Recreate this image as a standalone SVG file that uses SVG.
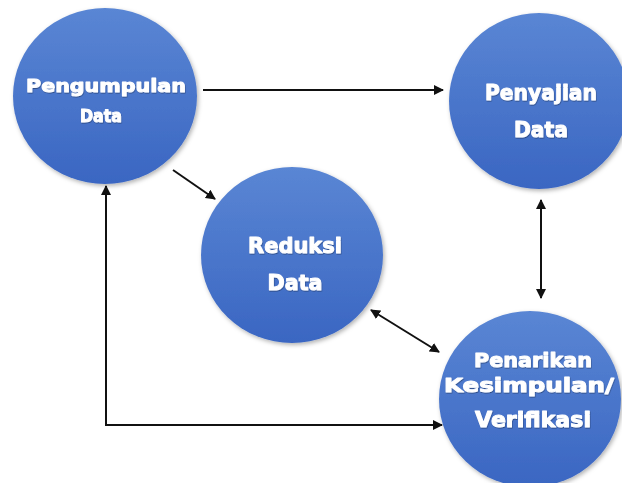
<svg xmlns="http://www.w3.org/2000/svg" width="622" height="483" viewBox="0 0 622 483">
<style>
.node{fill:url(#blue);filter:url(#sh)}
.lbl{font-family:"DejaVu Sans","Liberation Sans",sans-serif;font-weight:700;fill:#fff;stroke:#fff;stroke-width:1;stroke-linejoin:round;text-anchor:middle;filter:url(#tsh)}
.c{stroke:#111;stroke-width:2;fill:none}
</style>
<defs>
<linearGradient id="blue" x1="0" y1="0" x2="0" y2="1">
<stop offset="0" stop-color="#5a86d4"/>
<stop offset="1" stop-color="#3a66c2"/>
</linearGradient>
<filter id="sh" x="-10%" y="-10%" width="125%" height="125%">
<feDropShadow dx="1.5" dy="2" stdDeviation="2" flood-color="#000" flood-opacity="0.3"/>
</filter>
<filter id="tsh" x="-10%" y="-20%" width="120%" height="150%">
<feDropShadow dx="0.5" dy="1" stdDeviation="0.6" flood-color="#000" flood-opacity="0.35"/>
</filter>
<marker id="ah" viewBox="0 0 10 10" refX="9" refY="5" markerWidth="5" markerHeight="5" orient="auto-start-reverse">
<path d="M0,0 L10,5 L0,10 z" fill="#111"/>
</marker>
</defs>
<g id="pengumpulan">
<ellipse class="node" cx="105" cy="96" rx="92" ry="88"/>
<text class="lbl" x="106" y="92" font-size="18" textLength="160" lengthAdjust="spacingAndGlyphs">Pengumpulan</text>
<text class="lbl" x="101" y="122" font-size="18" textLength="42" lengthAdjust="spacingAndGlyphs">Data</text>
</g>
<g id="penyajian">
<ellipse class="node" cx="539" cy="101" rx="90" ry="88"/>
<text class="lbl" x="541" y="100" font-size="21" textLength="112" lengthAdjust="spacingAndGlyphs">Penyajian</text>
<text class="lbl" x="541" y="137" font-size="21" textLength="54" lengthAdjust="spacingAndGlyphs">Data</text>
</g>
<g id="reduksi">
<ellipse class="node" cx="292" cy="255" rx="91" ry="88"/>
<text class="lbl" x="295" y="253" font-size="21" textLength="94" lengthAdjust="spacingAndGlyphs">Reduksi</text>
<text class="lbl" x="295" y="290" font-size="21" textLength="55" lengthAdjust="spacingAndGlyphs">Data</text>
</g>
<g id="penarikan">
<ellipse class="node" cx="530" cy="399" rx="91" ry="88"/>
<text class="lbl" x="533" y="367" font-size="19" textLength="118" lengthAdjust="spacingAndGlyphs">Penarikan</text>
<text class="lbl" x="529" y="392" font-size="19" textLength="170" lengthAdjust="spacingAndGlyphs">Kesimpulan/</text>
<text class="lbl" x="533" y="427" font-size="21" textLength="116" lengthAdjust="spacingAndGlyphs">Verifikasi</text>
</g>
<g id="connectors">
<line class="c" x1="203" y1="90" x2="443" y2="90" marker-end="url(#ah)"/>
<line class="c" x1="173" y1="170" x2="215" y2="199" marker-end="url(#ah)"/>
<line class="c" x1="541" y1="200" x2="541" y2="298" marker-start="url(#ah)" marker-end="url(#ah)"/>
<line class="c" x1="371" y1="310" x2="439" y2="352" marker-start="url(#ah)" marker-end="url(#ah)"/>
<polyline class="c" points="106,186 106,425 442,425" marker-start="url(#ah)" marker-end="url(#ah)"/>
</g>
</svg>
